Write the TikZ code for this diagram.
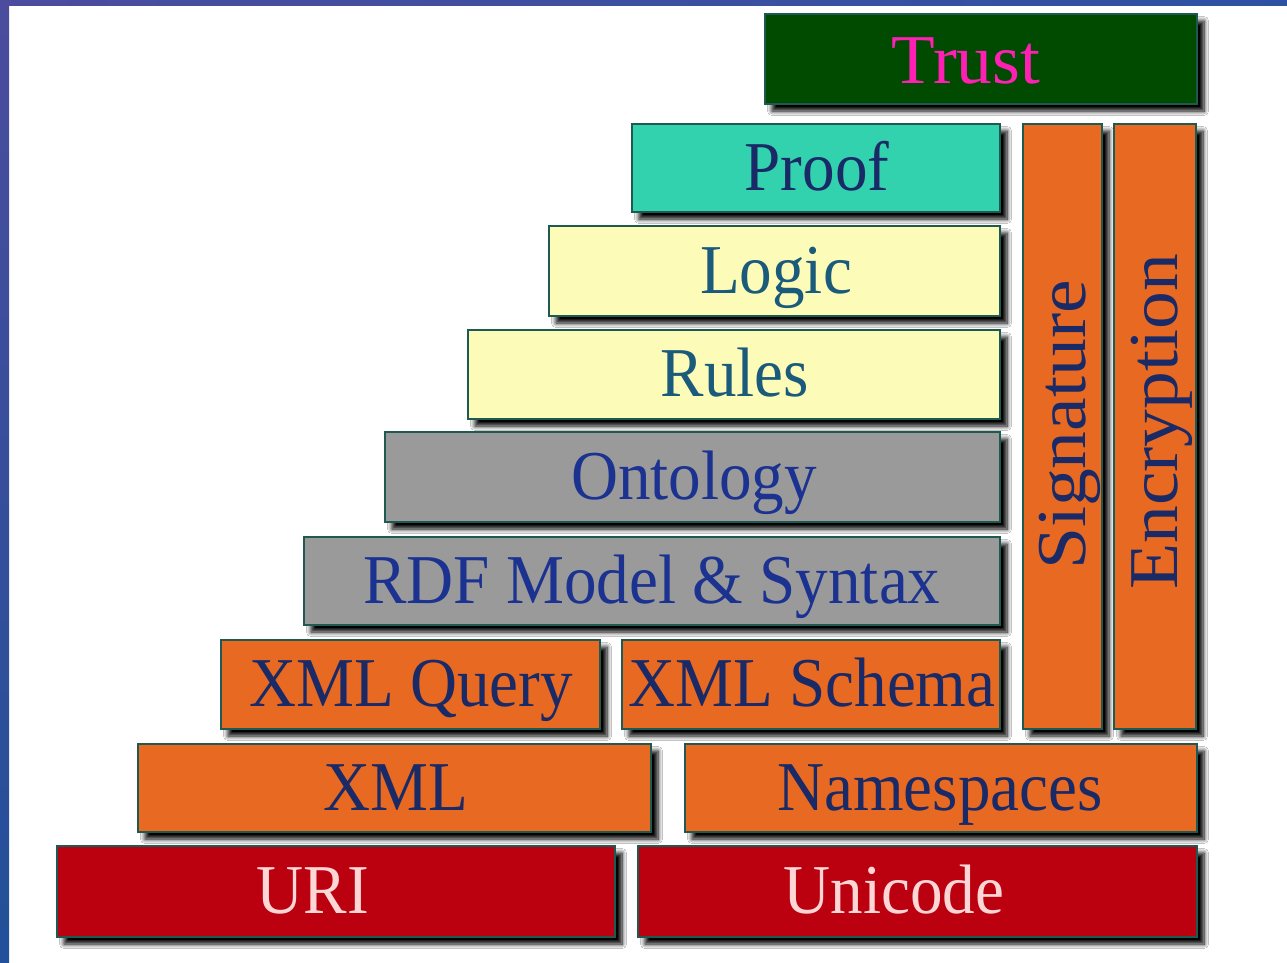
\documentclass[tikz,border=0pt]{standalone}
\usepackage{fontspec}
\setmainfont{Liberation Serif}
\usepackage{graphicx}
\usetikzlibrary{shadows.blur}

\definecolor{trustfill}{HTML}{004B00}
\definecolor{trusttext}{HTML}{FF1FB4}
\definecolor{prooffill}{HTML}{33D2AE}
\definecolor{yellowfill}{HTML}{FDFBB8}
\definecolor{grayfill}{HTML}{9A9A9A}
\definecolor{orangefill}{HTML}{E86A22}
\definecolor{redfill}{HTML}{BB000F}
\definecolor{edgecol}{HTML}{1E5A52}
\definecolor{navytext}{HTML}{1A2A66}
\definecolor{tealtext}{HTML}{1A5A7A}
\definecolor{bluetext}{HTML}{1C3290}
\definecolor{pinktext}{HTML}{FFD6D6}
\definecolor{frameA}{HTML}{4B4C9E}
\definecolor{frameB}{HTML}{22509A}
\definecolor{frameC}{HTML}{2E52A2}
\definecolor{shadowcol}{HTML}{2A2A2A}

\newcommand\squeezed[1]{\scalebox{0.93}[1]{#1}}
\newcommand\stretched[1]{\scalebox{1.08}[1]{#1}}

\tikzset{
  layer/.style={rectangle, draw=edgecol, line width=1.5pt, inner sep=0pt,
    blur shadow={shadow xshift=7pt, shadow yshift=-7pt, shadow blur steps=8,
      shadow blur radius=4.5pt, shadow opacity=100, shadow blur extra rounding=0pt}},
  label text/.style={inner sep=0pt, anchor=base,
    font=\fontsize{70}{80}\selectfont},
}

\begin{document}
\begin{tikzpicture}[x=1pt, y=-1pt]
\useasboundingbox (0,0) rectangle (1287,962);
\fill[white] (0,0) rectangle (1287,962);

% frame strips along the top and left edges
\shade[left color=frameA, right color=frameC] (0,0) rectangle (1287,5);
\shade[top color=frameA, bottom color=frameB] (0,0) rectangle (9,962);

% layer boxes
\node[layer, fill=trustfill, minimum width=432pt, minimum height=90pt] (trust) at (981,59) {};
\node[layer, fill=prooffill, minimum width=368pt, minimum height=88pt] (proof) at (816,168) {};
\node[layer, fill=yellowfill, minimum width=451pt, minimum height=90pt] (logic) at (774.5,271) {};
\node[layer, fill=yellowfill, minimum width=532pt, minimum height=89pt] (rules) at (734,374.5) {};
\node[layer, fill=grayfill, minimum width=615pt, minimum height=90pt] (onto) at (692.5,477) {};
\node[layer, fill=grayfill, minimum width=696pt, minimum height=88pt] (rdf) at (652,581) {};
\node[layer, fill=orangefill, minimum width=79pt, minimum height=605pt] (sig) at (1062.5,426.5) {};
\node[layer, fill=orangefill, minimum width=82pt, minimum height=605pt] (enc) at (1155,426.5) {};
\node[layer, fill=orangefill, minimum width=379pt, minimum height=89pt] (xq) at (410.5,684.5) {};
\node[layer, fill=orangefill, minimum width=378pt, minimum height=89pt] (xs) at (811,684.5) {};
\node[layer, fill=orangefill, minimum width=513pt, minimum height=88pt] (xml) at (394.5,788) {};
\node[layer, fill=orangefill, minimum width=512pt, minimum height=88pt] (ns) at (941,788) {};
\node[layer, fill=redfill, minimum width=558pt, minimum height=91pt] (uri) at (336,891.5) {};
\node[layer, fill=redfill, minimum width=559pt, minimum height=91pt] (uni) at (917.5,891.5) {};

% labels
\node[label text, text=trusttext] (trust-t) at (966,83) {\scalebox{1.02}[1]{Trust}};
\node[label text, text=navytext] (proof-t) at (817,190) {\squeezed{Proof}};
\node[label text, text=tealtext] (logic-t) at (776,293) {\squeezed{Logic}};
\node[label text, text=tealtext] (rules-t) at (735,396.5) {\squeezed{Rules}};
\node[label text, text=bluetext] (onto-t) at (694,499) {\squeezed{Ontology}};
\node[label text, text=bluetext] (rdf-t) at (652,603) {\squeezed{RDF Model \& Syntax}};
\node[label text, text=navytext] (xq-t) at (411,706) {\squeezed{XML Query}};
\node[label text, text=navytext] (xs-t) at (812,706) {\squeezed{XML Schema}};
\node[label text, text=navytext] (xml-t) at (396,810) {\squeezed{XML}};
\node[label text, text=navytext] (ns-t) at (940,810) {\squeezed{Namespaces}};
\node[label text, text=pinktext] (uri-t) at (313,913) {\squeezed{URI}};
\node[label text, text=pinktext] (uni-t) at (894,913) {\squeezed{Unicode}};
\node[label text, text=navytext, rotate=90] (sig-t) at (1085,425) {\stretched{Signature}};
\node[label text, text=navytext, rotate=90] (enc-t) at (1177,422) {\stretched{Encryption}};
\end{tikzpicture}
\end{document}
